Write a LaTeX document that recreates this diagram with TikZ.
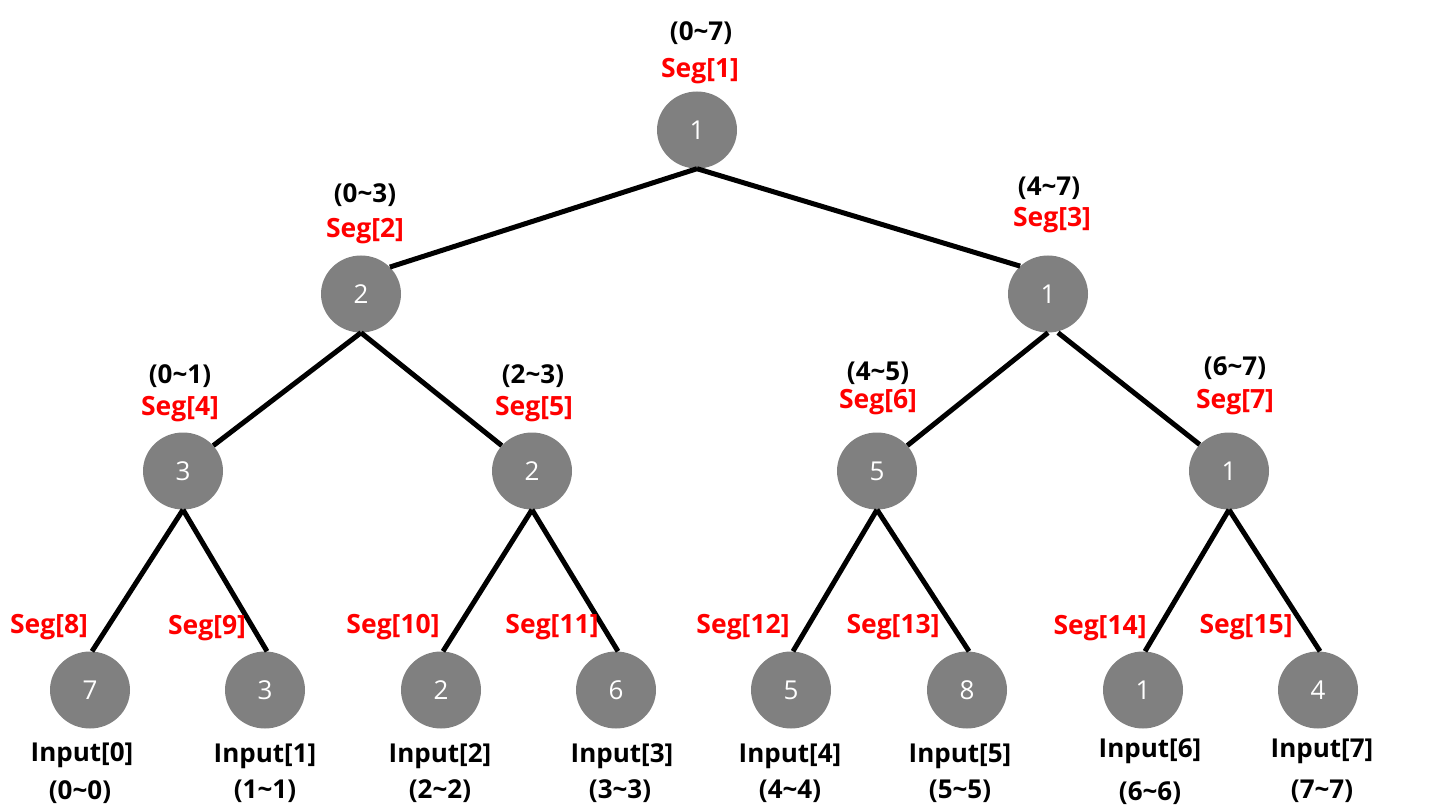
\documentclass[tikz,border=0pt]{standalone}
\usepackage{fontspec}
\setmainfont{Open Sans}
\usetikzlibrary{shapes.geometric}
\definecolor{nodegray}{RGB}{128,128,128}
\definecolor{segred}{RGB}{255,0,0}
\begin{document}
\begin{tikzpicture}[x=1pt,y=-1pt,
  tnode/.style={ellipse,fill=nodegray,minimum width=80pt,minimum height=77pt,inner sep=0pt,text=white,font=\fontsize{26}{28}\selectfont},
  edge/.style={line width=5pt,black},
  seg/.style={text=segred,font=\bfseries\fontsize{26.5}{30}\selectfont,inner sep=0pt},
  rng/.style={text=black,font=\bfseries\fontsize{26}{30}\selectfont,inner sep=0pt}]
\useasboundingbox (0,0) rectangle (1440,810);
% tree nodes
\node[tnode] (n1) at (697,130) {1};
\node[tnode] (n2) at (361,294) {2};
\node[tnode] (n3) at (1048,294) {1};
\node[tnode] (n4) at (183,471) {3};
\node[tnode] (n5) at (532,471) {2};
\node[tnode] (n6) at (877,471) {5};
\node[tnode] (n7) at (1229,471) {1};
\node[tnode] (n8) at (90,690) {7};
\node[tnode] (n9) at (265,690) {3};
\node[tnode] (n10) at (441,690) {2};
\node[tnode] (n11) at (616,690) {6};
\node[tnode] (n12) at (791,690) {5};
\node[tnode] (n13) at (967,690) {8};
\node[tnode] (n14) at (1143,690) {1};
\node[tnode] (n15) at (1318,690) {4};
% edges
\draw[edge] (n1.south) -- (n2.43);
\draw[edge] (n1.south) -- (n3.135);
\draw[edge] (n2.south) -- (n4.40);
\draw[edge] (n2.south) -- (n5.140);
\draw[edge] (n3.south) -- (n6.40);
\draw[edge] ([xshift=10pt]n3.south) -- (n7.138);
\draw[edge] (n4.south) -- ([xshift=2pt]n8.north);
\draw[edge] (n4.south) -- ([xshift=2pt]n9.north);
\draw[edge] (n5.south) -- ([xshift=2pt]n10.north);
\draw[edge] (n5.south) -- ([xshift=2pt]n11.north);
\draw[edge] (n6.south) -- ([xshift=2pt]n12.north);
\draw[edge] (n6.south) -- ([xshift=2pt]n13.north);
\draw[edge] (n7.south) -- ([xshift=2pt]n14.north);
\draw[edge] (n7.south) -- ([xshift=2pt]n15.north);
% labels
\node[rng] (r1) at (701,33) {(0\char"007E 7)};
\node[seg] (s1) at (700,71) {Seg[1]};
\node[rng] (r2) at (365,195) {(0\char"007E 3)};
\node[seg] (s2) at (365,231) {Seg[2]};
\node[rng] (r3) at (1049,188) {(4\char"007E 7)};
\node[seg] (s3) at (1052,220) {Seg[3]};
\node[rng] (r4) at (180,376) {(0\char"007E 1)};
\node[seg] (s4) at (180,409) {Seg[4]};
\node[rng] (r5) at (533,376) {(2\char"007E 3)};
\node[seg] (s5) at (534,409) {Seg[5]};
\node[rng] (r6) at (878,373) {(4\char"007E 5)};
\node[seg] (s6) at (878,402) {Seg[6]};
\node[rng] (r7) at (1235,368) {(6\char"007E 7)};
\node[seg] (s7) at (1235,402) {Seg[7]};
\node[seg] (s8) at (49,627) {Seg[8]};
\node[seg] (s9) at (207,628) {Seg[9]};
\node[seg] (s10) at (393,627) {Seg[10]};
\node[seg] (s11) at (552,627) {Seg[11]};
\node[seg] (s12) at (743,627) {Seg[12]};
\node[seg] (s13) at (893,627) {Seg[13]};
\node[seg] (s14) at (1100,628) {Seg[14]};
\node[seg] (s15) at (1246,627) {Seg[15]};
\node[rng] (i0) at (82,755) {Input[0]};
\node[rng] (q0) at (80,792) {(0\char"007E 0)};
\node[rng] (i1) at (265,756) {Input[1]};
\node[rng] (q1) at (265,791) {(1\char"007E 1)};
\node[rng] (i2) at (440,756) {Input[2]};
\node[rng] (q2) at (440,791) {(2\char"007E 2)};
\node[rng] (i3) at (622,756) {Input[3]};
\node[rng] (q3) at (620,791) {(3\char"007E 3)};
\node[rng] (i4) at (790,756) {Input[4]};
\node[rng] (q4) at (790,791) {(4\char"007E 4)};
\node[rng] (i5) at (960,756) {Input[5]};
\node[rng] (q5) at (960,791) {(5\char"007E 5)};
\node[rng] (i6) at (1150,751) {Input[6]};
\node[rng] (q6) at (1150,793) {(6\char"007E 6)};
\node[rng] (i7) at (1322,751) {Input[7]};
\node[rng] (q7) at (1322,791) {(7\char"007E 7)};
\end{tikzpicture}
\end{document}
